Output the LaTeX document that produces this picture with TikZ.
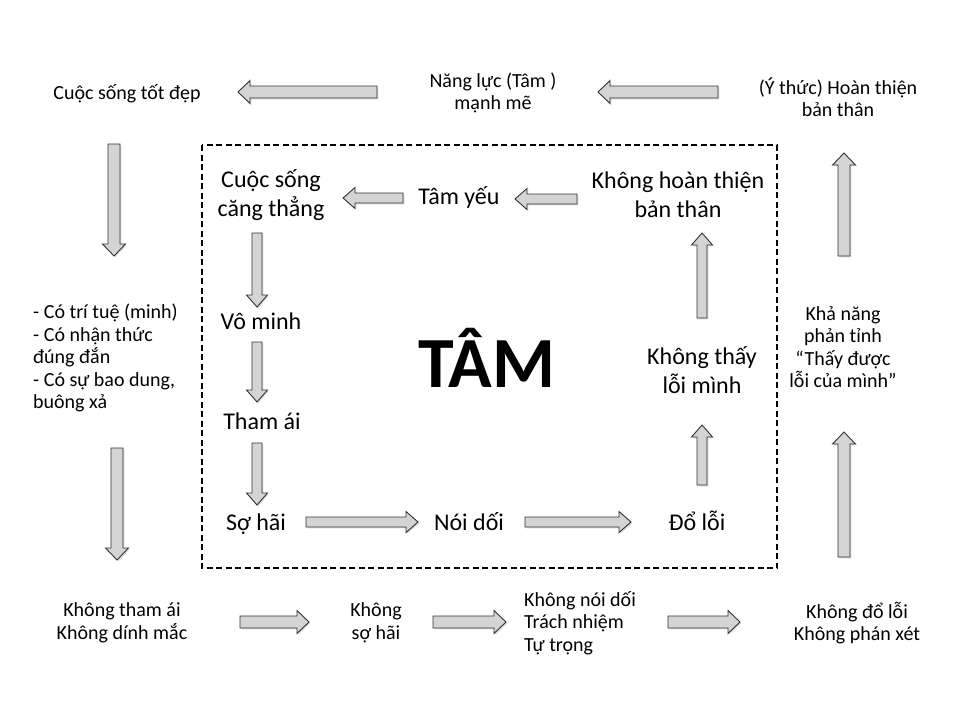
\documentclass[tikz,border=0pt]{standalone}
\usepackage{fontspec}
\setmainfont{Carlito}
\usetikzlibrary{calc}
\tikzset{
  otext/.style={font=\fontsize{20}{22.5}\selectfont, align=center, inner sep=0pt},
  itext/.style={font=\fontsize{24}{28.5}\selectfont, align=center, inner sep=0pt},
  barrowstyle/.style={draw=black!80, fill=black!17, line width=0.9pt, line join=miter},
  barrowshadow/.style={fill=black!14, draw=none},
  dashbox/.style={line width=2.5pt, dash pattern=on 6pt off 3.5pt},
}
% #1 start, #2 tip, #3 half shaft width, #4 half head width
\newcommand\barrow[4]{%
  \coordinate (hb) at ($(#2)!12pt!(#1)$);
  \path[barrowshadow, transform canvas={xshift=1.3pt,yshift=-1.3pt}]
    ($(#1)!#3!90:(#2)$) -- ($(hb)!#3!90:(#2)$) -- ($(hb)!#4!90:(#2)$) -- (#2)
    -- ($(hb)!#4!-90:(#2)$) -- ($(hb)!#3!-90:(#2)$) -- ($(#1)!#3!-90:(#2)$) -- cycle;
  \draw[barrowstyle]
    ($(#1)!#3!90:(#2)$) -- ($(hb)!#3!90:(#2)$) -- ($(hb)!#4!90:(#2)$) -- (#2)
    -- ($(hb)!#4!-90:(#2)$) -- ($(hb)!#3!-90:(#2)$) -- ($(#1)!#3!-90:(#2)$) -- cycle;
}
\begin{document}
\begin{tikzpicture}[x=1pt,y=-1pt]
\useasboundingbox (0,0) rectangle (960,720);
\fill[white] (0,0) rectangle (960,720);

% dashed frame
\draw[dashbox] (202,145) rectangle (777,568);

% outer texts
\node[otext, anchor=base] (good) at (127,99) {Cuộc sống tốt đẹp};
\node[otext] (power) at (493,93) {Năng lực (Tâm )\\mạnh mẽ};
\node[otext] (aware) at (838,97) {(Ý thức) Hoàn thiện\\bản thân};
\node[otext, align=left, anchor=west] (wisdom) at (33,358) {- Có trí tuệ (minh)\\- Có nhận thức\\đúng đắn\\- Có sự bao dung,\\buông xả};
\node[otext] (reflect) at (843,347) {Khả năng\\phản tỉnh\\“Thấy được\\lỗi của mình”};
\node[otext] (notlust) at (122,623) {Không tham ái\\Không dính mắc};
\node[otext] (notfear) at (376,623) {Không\\sợ hãi};
\node[otext, align=left, anchor=west] (notlie) at (524,623) {Không nói dối\\Trách nhiệm\\Tự trọng};
\node[otext] (notblame) at (857,623) {Không đổ lỗi\\Không phán xét};

% inner texts
\node[itext] (stress) at (271,195) {Cuộc sống\\căng thẳng};
\node[itext, anchor=base] (weak) at (459,204) {Tâm yếu};
\node[itext] (notperf) at (678,195) {Không hoàn thiện\\bản thân};
\node[itext, anchor=base] (ignor) at (261,329) {Vô minh};
\node[itext, anchor=base] (lust) at (262,429) {Tham ái};
\node[itext, anchor=base] (fear) at (256,530) {Sợ hãi};
\node[itext, anchor=base] (lie) at (469,530) {Nói dối};
\node[itext, anchor=base] (blame) at (697,530) {Đổ lỗi};
\node[itext] (blind) at (702,370) {Không thấy\\lỗi mình};
\node[font=\bfseries\fontsize{72}{72}\selectfont, inner sep=0pt] (tam) at (487,358) {TÂM};

% arrow end points
\coordinate (a1s) at (377,92);  \coordinate (a1e) at (238,92);
\coordinate (a2s) at (718,92);  \coordinate (a2e) at (598,92);
\coordinate (a3s) at (114,144); \coordinate (a3e) at (114,256);
\coordinate (a4s) at (117,448); \coordinate (a4e) at (117,560);
\coordinate (a5s) at (844,256); \coordinate (a5e) at (844,153);
\coordinate (a6s) at (844,557); \coordinate (a6e) at (844,432);
\coordinate (a7s) at (240,622); \coordinate (a7e) at (309,622);
\coordinate (a8s) at (433,622); \coordinate (a8e) at (506,622);
\coordinate (a9s) at (668,622); \coordinate (a9e) at (740,622);
\coordinate (b1s) at (403,198); \coordinate (b1e) at (343,198);
\coordinate (b2s) at (577,199); \coordinate (b2e) at (515,199);
\coordinate (b3s) at (257,233); \coordinate (b3e) at (257,307);
\coordinate (b4s) at (257,342); \coordinate (b4e) at (257,402);
\coordinate (b5s) at (257,443); \coordinate (b5e) at (257,505);
\coordinate (b6s) at (306,522); \coordinate (b6e) at (418,522);
\coordinate (b7s) at (525,522); \coordinate (b7e) at (631,522);
\coordinate (b8s) at (702,318); \coordinate (b8e) at (702,233);
\coordinate (b9s) at (702,485); \coordinate (b9e) at (702,425);

% outer arrows
\barrow{a1s}{a1e}{6pt}{11.5pt}
\barrow{a2s}{a2e}{6pt}{11.5pt}
\barrow{a3s}{a3e}{6pt}{11.5pt}
\barrow{a4s}{a4e}{6pt}{11.5pt}
\barrow{a5s}{a5e}{6pt}{11.5pt}
\barrow{a6s}{a6e}{6pt}{11.5pt}
\barrow{a7s}{a7e}{6pt}{11.5pt}
\barrow{a8s}{a8e}{6pt}{11.5pt}
\barrow{a9s}{a9e}{6pt}{11.5pt}
% inner arrows
\barrow{b1s}{b1e}{5pt}{10.5pt}
\barrow{b2s}{b2e}{5pt}{10.5pt}
\barrow{b3s}{b3e}{5pt}{10.5pt}
\barrow{b4s}{b4e}{5pt}{10.5pt}
\barrow{b5s}{b5e}{5pt}{10.5pt}
\barrow{b6s}{b6e}{5pt}{10.5pt}
\barrow{b7s}{b7e}{5pt}{10.5pt}
\barrow{b8s}{b8e}{5pt}{10.5pt}
\barrow{b9s}{b9e}{5pt}{10.5pt}
\end{tikzpicture}
\end{document}
